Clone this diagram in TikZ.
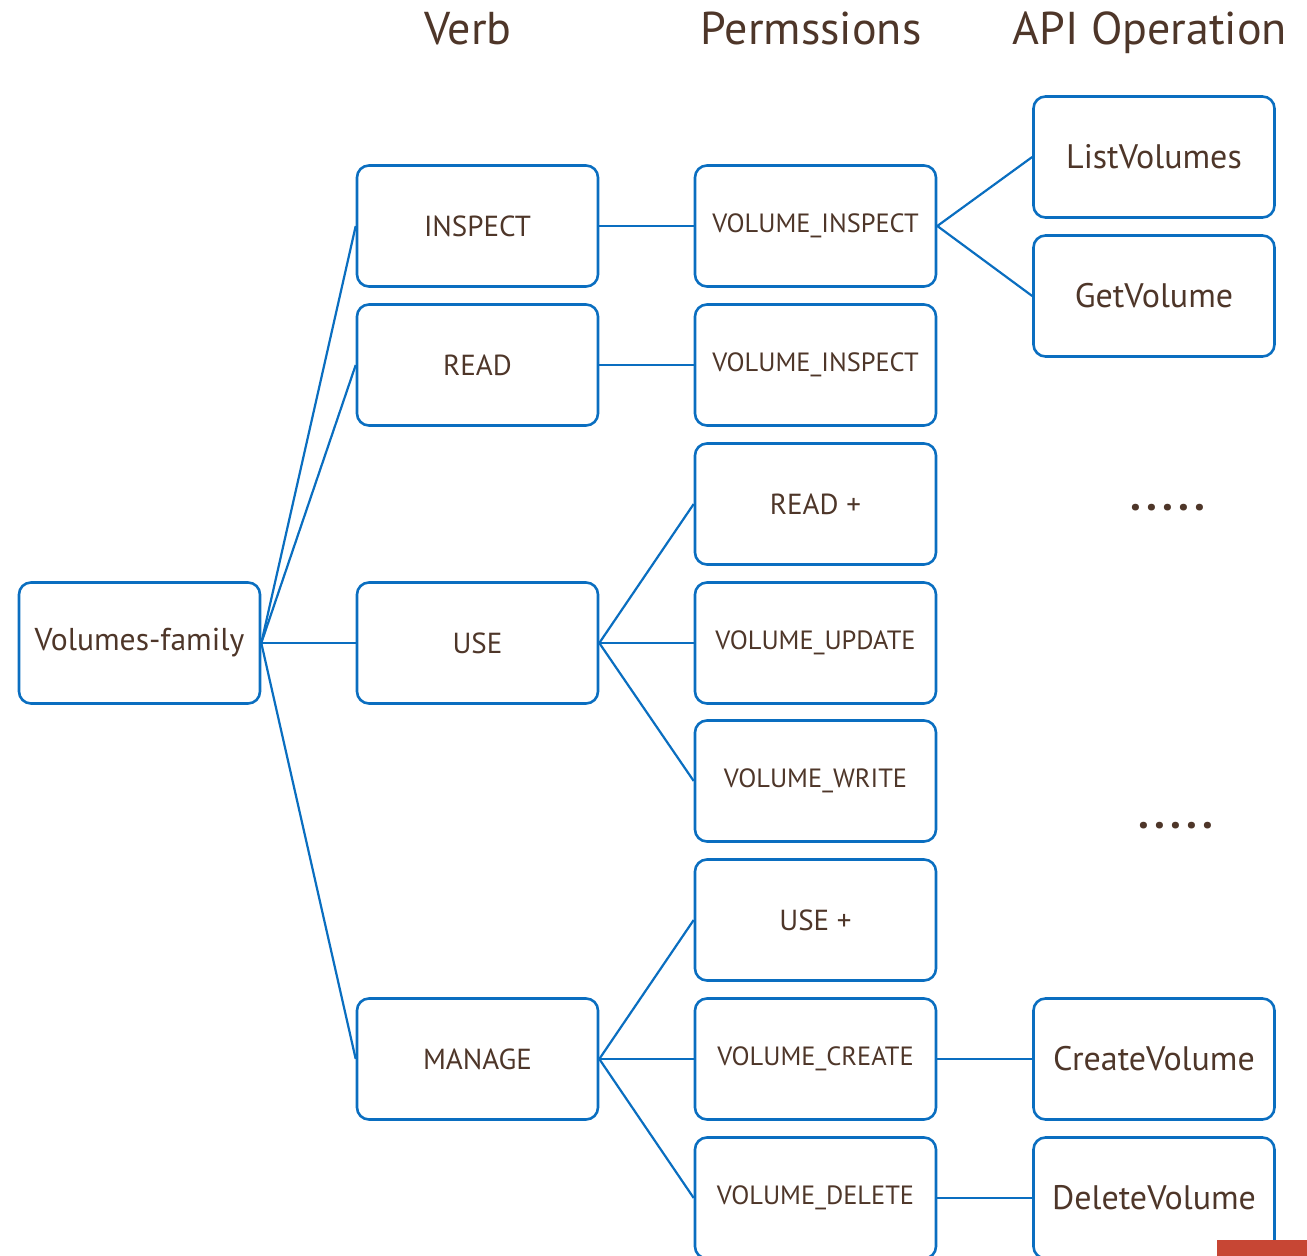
\documentclass[tikz,border=0pt]{standalone}
\usepackage{fontspec}
\setmainfont{PT Sans}
\usetikzlibrary{calc}
\definecolor{linkblue}{HTML}{0A6EC0}
\definecolor{inkbrown}{HTML}{4E3629}
\definecolor{slidered}{HTML}{C74634}
\newcommand{\moredots}{.\kern2.5pt.\kern2.5pt.\kern2.5pt.\kern2.5pt.}
\begin{document}
\begin{tikzpicture}[
    x=0.5pt,y=-0.5pt,
    box/.style={draw=linkblue,line width=1.3pt,rounded corners=6pt,
      minimum width=120.5pt,minimum height=60.5pt,inner sep=0pt,text=inkbrown},
    verb/.style={box,font=\fontsize{14.5}{16}\selectfont},
    perm/.style={box,font=\fontsize{13.2}{15}\selectfont},
    api/.style={box,font=\fontsize{17}{19}\selectfont},
    head/.style={text=inkbrown,anchor=base,font=\fontsize{23}{26}\selectfont},
    more/.style={text=inkbrown,font=\fontsize{22}{24}\bfseries},
    link/.style={draw=linkblue,line width=1.1pt}
    ]
% PAGE
\useasboundingbox (0,0) rectangle (1307,1256);
\def\xa{139.5}   % family column
\def\xb{477.5}   % verb column
\def\xc{815.5}   % permission column
\def\xd{1154}    % api column

    % HEADERS
    \node[head] (hverb) at (468,45) {Verb};
    \node[head] (hperm) at (811,45) {Permssions};
    \node[head] (hapi)  at (1150,45) {API Operation};

    % FAMILY & VERBS
    \node[box,font=\fontsize{15.8}{18}\selectfont] (family) at (\xa,643) {Volumes-family};
    \node[verb] (inspect) at (\xb,226)  {INSPECT};
    \node[verb] (read)    at (\xb,365)  {READ};
    \node[verb] (use)     at (\xb,643)  {USE};
    \node[verb] (manage)  at (\xb,1059) {MANAGE};

    % PERMISSIONS
    \node[perm] (pinspect) at (\xc,226)  {VOLUME\_INSPECT};
    \node[perm] (pread)    at (\xc,365)  {VOLUME\_INSPECT};
    \node[verb] (readplus) at (\xc,504)  {READ +};
    \node[perm] (pupdate)  at (\xc,643)  {VOLUME\_UPDATE};
    \node[perm] (pwrite)   at (\xc,781)  {VOLUME\_WRITE};
    \node[verb] (useplus)  at (\xc,920)  {USE +};
    \node[perm] (pcreate)  at (\xc,1059) {VOLUME\_CREATE};
    \node[perm] (pdelete)  at (\xc,1198) {VOLUME\_DELETE};

    % API OPERATIONS
    \node[api] (list)   at (\xd,157)  {ListVolumes};
    \node[api] (get)    at (\xd,296)  {GetVolume};
    \node[more] (dotsa) at (1168,508) {\moredots};
    \node[more] (dotsb) at (1176,826) {\moredots};
    \node[api] (create) at (\xd,1059) {CreateVolume};
    \node[api] (delete) at (\xd,1198) {DeleteVolume};

    % LINKS
    \draw[link] (family.east) -- (inspect.west);
    \draw[link] (family.east) -- (read.west);
    \draw[link] (family.east) -- (use.west);
    \draw[link] (family.east) -- (manage.west);
    \draw[link] (inspect.east) -- (pinspect.west);
    \draw[link] (read.east) -- (pread.west);
    \draw[link] (use.east) -- (readplus.west);
    \draw[link] (use.east) -- (pupdate.west);
    \draw[link] (use.east) -- (pwrite.west);
    \draw[link] (manage.east) -- (useplus.west);
    \draw[link] (manage.east) -- (pcreate.west);
    \draw[link] (manage.east) -- (pdelete.west);
    \draw[link] (pinspect.east) -- (list.west);
    \draw[link] (pinspect.east) -- (get.west);
    \draw[link] (pcreate.east) -- (create.west);
    \draw[link] (pdelete.east) -- (delete.west);

    % CORNER MARK
    \fill[slidered] (1217,1240) rectangle (1307,1256);
\end{tikzpicture}
\end{document}
